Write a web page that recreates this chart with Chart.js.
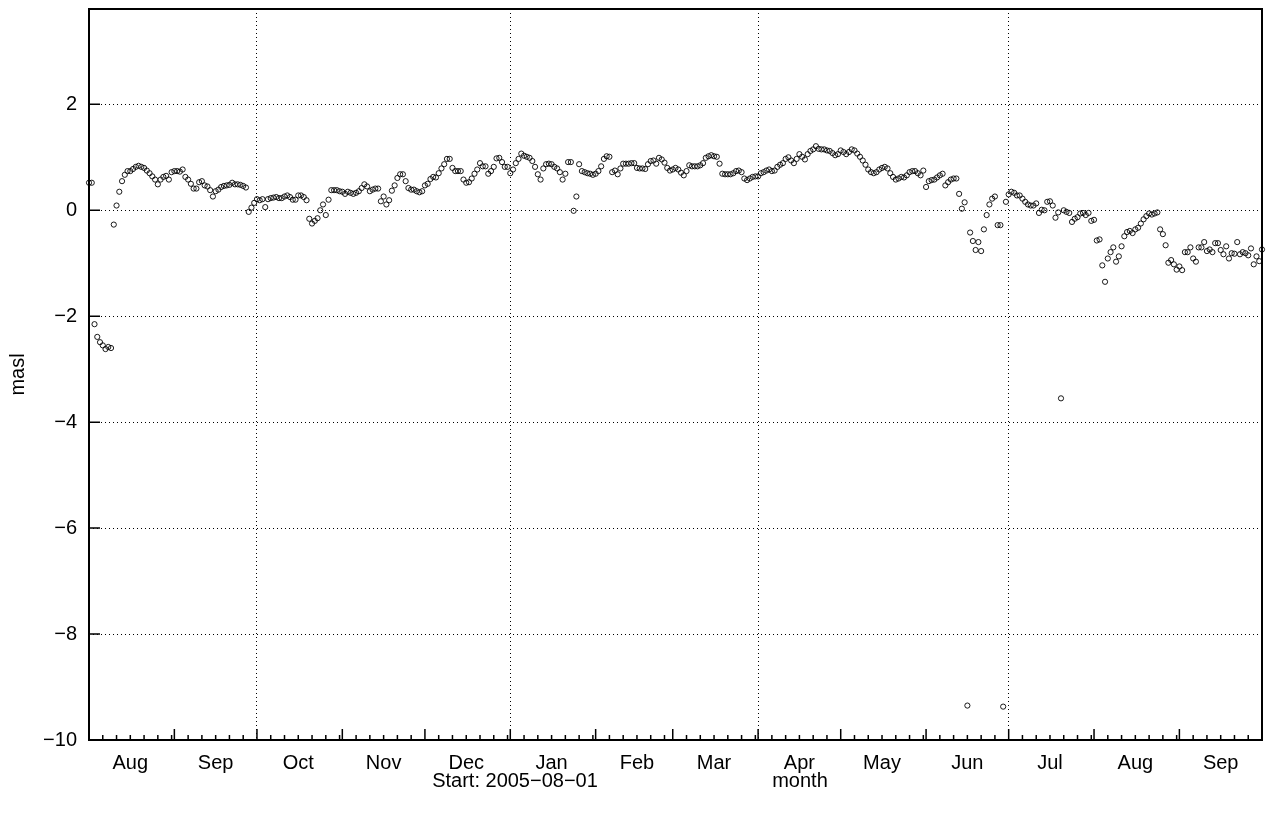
<!DOCTYPE html>
<html>
<head>
<meta charset="utf-8">
<script src="https://cdn.jsdelivr.net/npm/chart.js@4.4.0/dist/chart.umd.min.js"></script>
<style>
  html, body { margin: 0; padding: 0; background: #fff; }
</style>
</head>
<body>
<canvas id="grafico" width="1272" height="820"></canvas>
<script>
// nivel diario (masl), primer valor = 2005-08-01
var aug05 = [0.52, 0.52, -2.15, -2.39, -2.49, -2.55, -2.62, -2.58, -2.6, -0.27, 0.09, 0.35, 0.55, 0.67, 0.74, 0.74,
             0.78, 0.82, 0.84, 0.82, 0.8, 0.75, 0.7, 0.64, 0.58, 0.49, 0.58, 0.63, 0.65, 0.58, 0.72];
var sep05 = [0.74, 0.74, 0.73, 0.77, 0.63, 0.58, 0.5, 0.41, 0.41, 0.53, 0.55, 0.47, 0.45, 0.38, 0.26, 0.36,
             0.39, 0.44, 0.46, 0.47, 0.48, 0.52, 0.49, 0.49, 0.48, 0.46, 0.43, -0.03, 0.05, 0.14];
var oct05 = [0.21, 0.19, 0.21, 0.06, 0.21, 0.23, 0.24, 0.25, 0.23, 0.23, 0.26, 0.28, 0.25, 0.2, 0.2, 0.28,
             0.28, 0.25, 0.19, -0.16, -0.25, -0.2, -0.15, 0.0, 0.11, -0.09, 0.2, 0.38, 0.38, 0.38, 0.36];
var nov05 = [0.35, 0.31, 0.35, 0.33, 0.31, 0.33, 0.36, 0.42, 0.49, 0.45, 0.36, 0.39, 0.41, 0.41, 0.17, 0.26,
             0.11, 0.19, 0.37, 0.47, 0.61, 0.68, 0.68, 0.55, 0.42, 0.39, 0.39, 0.36, 0.34, 0.36];
var dec05 = [0.47, 0.5, 0.59, 0.63, 0.62, 0.7, 0.79, 0.87, 0.97, 0.97, 0.8, 0.74, 0.74, 0.74, 0.58, 0.52,
             0.53, 0.6, 0.69, 0.77, 0.89, 0.83, 0.83, 0.69, 0.74, 0.82, 0.98, 0.99, 0.91, 0.82, 0.82];
var jan06 = [0.7, 0.77, 0.89, 0.97, 1.07, 1.03, 1.01, 0.99, 0.93, 0.82, 0.68, 0.58, 0.79, 0.87, 0.88, 0.87,
             0.82, 0.79, 0.72, 0.58, 0.69, 0.91, 0.91, -0.01, 0.26, 0.87, 0.74, 0.72, 0.7, 0.69, 0.67];
var feb06 = [0.69, 0.74, 0.83, 0.97, 1.02, 1.01, 0.72, 0.75, 0.68, 0.79, 0.88, 0.88, 0.88, 0.89, 0.89, 0.8,
             0.79, 0.79, 0.78, 0.87, 0.93, 0.94, 0.88, 0.99, 0.96, 0.9, 0.8, 0.75];
var mar06 = [0.77, 0.8, 0.77, 0.71, 0.66, 0.74, 0.85, 0.83, 0.83, 0.83, 0.85, 0.89, 0.99, 1.02, 1.04, 1.02,
             1.01, 0.88, 0.69, 0.68, 0.68, 0.68, 0.7, 0.74, 0.75, 0.72, 0.6, 0.57, 0.6, 0.63, 0.64];
var apr06 = [0.64, 0.7, 0.72, 0.75, 0.77, 0.74, 0.75, 0.82, 0.86, 0.89, 0.97, 1.0, 0.94, 0.89, 0.97, 1.06,
             1.01, 0.96, 1.06, 1.12, 1.15, 1.21, 1.16, 1.15, 1.15, 1.13, 1.12, 1.08, 1.04, 1.06];
var may06 = [1.13, 1.1, 1.06, 1.1, 1.15, 1.13, 1.07, 1.01, 0.94, 0.86, 0.77, 0.72, 0.7, 0.72, 0.77, 0.8,
             0.82, 0.79, 0.7, 0.63, 0.58, 0.6, 0.63, 0.62, 0.66, 0.72, 0.74, 0.74, 0.7, 0.66, 0.75];
var jun06 = [0.44, 0.55, 0.57, 0.58, 0.62, 0.66, 0.69, 0.47, 0.53, 0.58, 0.6, 0.6, 0.31, 0.03, 0.15, -9.35,
             -0.42, -0.58, -0.75, -0.6, -0.77, -0.36, -0.09, 0.11, 0.22, 0.26, -0.28, -0.28, -9.37, 0.16];
var jul06 = [0.3, 0.35, 0.33, 0.28, 0.28, 0.22, 0.16, 0.11, 0.09, 0.09, 0.13, -0.05, 0.01, 0.0, 0.16, 0.17,
             0.09, -0.14, -0.04, -3.55, 0.0, -0.03, -0.05, -0.22, -0.16, -0.13, -0.06, -0.05, -0.09, -0.05, -0.2];
var aug06 = [-0.18, -0.57, -0.55, -1.04, -1.35, -0.91, -0.79, -0.7, -0.97, -0.87, -0.68, -0.49, -0.41, -0.39, -0.43, -0.36,
             -0.33, -0.25, -0.17, -0.11, -0.06, -0.08, -0.06, -0.04, -0.36, -0.45, -0.66, -0.99, -0.94, -1.02, -1.12];
var sep06 = [-1.06, -1.13, -0.79, -0.79, -0.7, -0.91, -0.97, -0.7, -0.7, -0.6, -0.77, -0.74, -0.79, -0.62, -0.62, -0.75,
             -0.83, -0.68, -0.91, -0.81, -0.82, -0.6, -0.83, -0.79, -0.81, -0.85, -0.72, -1.02, -0.87, -0.96];
var oct06 = [-0.74];

var monthNames = ['Aug', 'Sep', 'Oct', 'Nov', 'Dec', 'Jan', 'Feb', 'Mar', 'Apr', 'May', 'Jun', 'Jul', 'Aug', 'Sep'];
var yTicks = [-10, -8, -6, -4, -2, 0, 2];
var yMax = 3.8;

var masl = [].concat(aug05, sep05, oct05, nov05, dec05, jan06, feb06, mar06, apr06, may06, jun06, jul06, aug06, sep06, oct06);

// dias desde el inicio para cada comienzo de mes
var t0 = Date.UTC(2005, 7, 1);
var monthStarts = [];
for (var m = 0; m <= monthNames.length; m++) {
    monthStarts.push((Date.UTC(2005, 7 + m, 1) - t0) / 864e5);
}
var xMax = monthStarts[monthStarts.length - 1];
var midMonths = [];
var minorDays = [];
var gridDays = [];
for (var i = 0; i < monthNames.length; i++) {
    midMonths.push(monthStarts[i] + 15);
    for (var k = 5; monthStarts[i] + k < monthStarts[i + 1]; k += 5) minorDays.push(monthStarts[i] + k);
    if ((7 + i) % 3 === 0 && i > 0) gridDays.push(monthStarts[i]); // Oct, Jan, Apr, Jul
}

var puntos = [];
for (var d = 0; d < masl.length; d++) {
    if (masl[d] !== null) puntos.push({ x: d, y: masl[d] });
}

var fuente = { family: '"Liberation Sans", Arial, Helvetica, sans-serif', size: 20 };
var fuenteCss = '20px "Liberation Sans", Arial, Helvetica, sans-serif';

function sinPadding(s) {
    s.paddingTop = 0; s.paddingBottom = 0; s.paddingLeft = 0; s.paddingRight = 0;
}

// marco, ticks hacia adentro y textos inferiores
var marco = {
    id: 'marco',
    afterDatasetsDraw: function (chart) {
        var ctx = chart.ctx, a = chart.chartArea;
        var xs = chart.scales.x, ys = chart.scales.y;
        ctx.save();
        ctx.strokeStyle = '#000';
        ctx.lineWidth = 1.5;
        ctx.beginPath();
        monthStarts.forEach(function (v) {
            var px = xs.getPixelForValue(v);
            ctx.moveTo(px, a.bottom); ctx.lineTo(px, a.bottom - 11);
        });
        minorDays.forEach(function (v) {
            var px = xs.getPixelForValue(v);
            ctx.moveTo(px, a.bottom); ctx.lineTo(px, a.bottom - 5);
        });
        yTicks.forEach(function (v) {
            var py = ys.getPixelForValue(v);
            ctx.moveTo(a.left, py); ctx.lineTo(a.left + 11, py);
        });
        ctx.stroke();
        ctx.lineWidth = 2;
        ctx.strokeRect(a.left, a.top, a.right - a.left, a.bottom - a.top);

        ctx.fillStyle = '#000';
        ctx.font = fuenteCss;
        ctx.textAlign = 'center';
        ctx.textBaseline = 'middle';
        ctx.fillText('Start: 2005\u221208\u221201', 515, 781);
        ctx.fillText('month', 800, 781);
        ctx.restore();
    }
};

var config = {
    type: 'scatter',
    data: {
        datasets: [{
            data: puntos,
            pointStyle: 'circle',
            pointRadius: 2.6,
            pointHoverRadius: 2.6,
            pointBorderWidth: 0.9,
            borderColor: '#000',
            backgroundColor: 'rgba(0,0,0,0)',
            clip: false
        }]
    },
    options: {
        responsive: false,
        animation: false,
        events: [],
        layout: { padding: { top: 9, right: 10, left: 0, bottom: 0 } },
        plugins: { legend: { display: false }, tooltip: { enabled: false } },
        scales: {
            x: {
                type: 'linear', position: 'bottom', min: 0, max: xMax,
                afterBuildTicks: function (s) { s.ticks = gridDays.map(function (v) { return { value: v }; }); },
                afterFit: function (s) { s.height = 0; sinPadding(s); },
                ticks: { display: false },
                grid: { color: '#000', lineWidth: 1, drawTicks: false },
                border: { display: false, dash: [1, 3] }
            },
            xm: {
                type: 'linear', position: 'bottom', min: 0, max: xMax,
                afterBuildTicks: function (s) { s.ticks = midMonths.map(function (v) { return { value: v }; }); },
                afterFit: function (s) { s.height = 80; sinPadding(s); },
                ticks: {
                    autoSkip: false, maxRotation: 0, padding: 11, color: '#000', font: fuente,
                    callback: function (value, index) { return monthNames[index]; }
                },
                grid: { display: false, drawTicks: false },
                border: { display: false }
            },
            y: {
                type: 'linear', min: -10, max: yMax,
                afterBuildTicks: function (s) { s.ticks = yTicks.map(function (v) { return { value: v }; }); },
                afterFit: function (s) { s.width = 89; sinPadding(s); },
                ticks: {
                    padding: 12, color: '#000', font: fuente,
                    callback: function (v) { return String(v).replace('-', '\u2212'); }
                },
                grid: {
                    drawTicks: false, lineWidth: 1,
                    color: function (c) { return c.tick && c.tick.value === -10 ? 'rgba(0,0,0,0)' : '#000'; }
                },
                border: { display: false, dash: [1, 3] },
                title: { display: true, text: 'masl', color: '#000', font: fuente, padding: { top: 6, bottom: 0 } }
            }
        }
    },
    plugins: [marco]
};

var myChart = new Chart(document.getElementById('grafico'), config);
</script>
</body>
</html>
